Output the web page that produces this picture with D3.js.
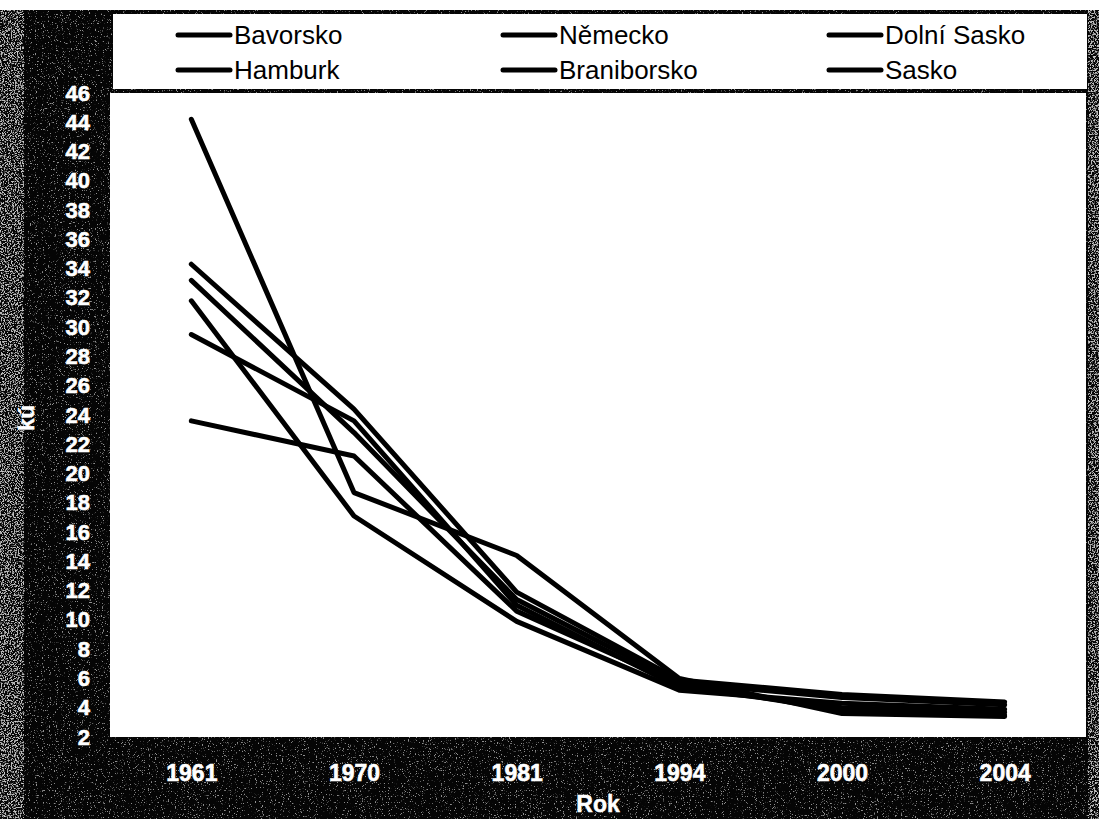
<!DOCTYPE html>
<html>
<head>
<meta charset="utf-8">
<script src="https://cdn.jsdelivr.net/npm/d3@7"></script>
<style>
  html, body { margin: 0; padding: 0; background: #fff; }
  svg { display: block; }
</style>
</head>
<body>
<div id="chart"></div>
<script>
// ---- data ----
const years = ["1961", "1970", "1981", "1994", "2000", "2004"];
const seriesNames = ["Bavorsko", "Německo", "Dolní Sasko", "Hamburk", "Braniborsko", "Sasko"];
const bavorsko    = [23.6, 21.2, 10.6, 5.6, 3.8, 3.5];
const nemecko     = [29.5, 23.6, 11.0, 5.4, 4.0, 3.7];
const dolniSasko  = [33.2, 22.8, 11.4, 5.7, 4.7, 4.2];
const hamburk     = [31.8, 17.1,  9.9, 5.2, 4.3, 3.9];
const braniborsko = [34.3, 24.4, 11.9, 5.9, 4.9, 4.4];
const sasko       = [44.2, 18.7, 14.4, 6.0, 3.6, 3.4];
const seriesValues = [bavorsko, nemecko, dolniSasko, hamburk, braniborsko, sasko];
const yTicks = [2,4,6,8,10,12,14,16,18,20,22,24,26,28,30,32,34,36,38,40,42,44,46];
const xTitle = "Rok";
const yTitle = "kú";

// ---- layout ----
const W = 1099, H = 819;
const plot = {left: 110, right: 1086, top: 93, bottom: 737};
const legendBox = {left: 113, right: 1087, top: 14, bottom: 89};

const svg = d3.select("#chart").append("svg")
  .attr("width", W).attr("height", H);

const defs = svg.append("defs");
function noiseFilter(id, freq, th, seed, gray) {
  const f = defs.append("filter").attr("id", id)
    .attr("x", 0).attr("y", 0).attr("width", 1).attr("height", 1);
  f.append("feTurbulence").attr("type", "fractalNoise")
    .attr("baseFrequency", freq).attr("numOctaves", 3).attr("seed", seed);
  const T = 9;
  f.append("feColorMatrix").attr("type", "matrix")
    .attr("values", `0 0 0 0 ${gray} 0 0 0 0 ${gray} 0 0 0 0 ${gray} ${T} 0 0 0 ${-T*th}`);
}
noiseFilter("spk", 0.85, 0.63, 4, 0.85);
noiseFilter("spkEdge", 0.7, 0.5, 9, 0.8);

// background: white strip at top, dark scanned field below
svg.append("rect").attr("x", 0).attr("y", 0).attr("width", W).attr("height", H).attr("fill", "#fff");
svg.append("rect").attr("x", 0).attr("y", 10).attr("width", W).attr("height", H - 10).attr("fill", "#050505");
svg.append("rect").attr("x", 0).attr("y", 10).attr("width", W).attr("height", H - 10)
  .attr("filter", "url(#spk)").attr("opacity", 0.6);
svg.append("rect").attr("x", 0).attr("y", 10).attr("width", 24).attr("height", H - 10)
  .attr("filter", "url(#spkEdge)").attr("opacity", 0.8);
svg.append("rect").attr("x", 1088).attr("y", 10).attr("width", 11).attr("height", H - 10)
  .attr("filter", "url(#spkEdge)").attr("opacity", 0.8);

// plot area and legend box
svg.append("rect").attr("x", legendBox.left).attr("y", legendBox.top)
  .attr("width", legendBox.right - legendBox.left).attr("height", legendBox.bottom - legendBox.top)
  .attr("fill", "#fff");
svg.append("rect").attr("x", plot.left).attr("y", plot.top)
  .attr("width", plot.right - plot.left).attr("height", plot.bottom - plot.top)
  .attr("fill", "#fff");

// scales
const x = d3.scalePoint().domain(years).range([plot.left, plot.right]).padding(0.5);
const y = d3.scaleLinear().domain([2, 46]).range([plot.bottom, plot.top]);

// axes
const yAxis = svg.append("g").attr("transform", `translate(${plot.left},0)`)
  .call(d3.axisLeft(y).tickValues(yTicks).tickFormat(d3.format("d")).tickSize(0).tickPadding(20));
yAxis.select(".domain").remove();
yAxis.selectAll("text")
  .attr("fill", "#fff").attr("font-family", "Liberation Sans, Arial, sans-serif")
  .attr("font-weight", "bold").attr("font-size", 22)
  .attr("stroke", "#fff").attr("stroke-width", 0.6);

const xAxis = svg.append("g").attr("transform", `translate(0,${plot.bottom})`)
  .call(d3.axisBottom(x).tickSize(0).tickPadding(28));
xAxis.select(".domain").remove();
xAxis.selectAll("text")
  .attr("fill", "#fff").attr("font-family", "Liberation Sans, Arial, sans-serif")
  .attr("font-weight", "bold").attr("font-size", 23)
  .attr("stroke", "#fff").attr("stroke-width", 0.6);

// axis titles
svg.append("text").attr("x", 598).attr("y", 812)
  .attr("text-anchor", "middle").attr("fill", "#fff")
  .attr("font-family", "Liberation Sans, Arial, sans-serif").attr("font-weight", "bold")
  .attr("font-size", 23).attr("stroke", "#fff").attr("stroke-width", 0.5).text(xTitle);
svg.append("text").attr("transform", "translate(34,418) rotate(-90)")
  .attr("text-anchor", "middle").attr("fill", "#fff")
  .attr("font-family", "Liberation Sans, Arial, sans-serif").attr("font-weight", "bold")
  .attr("font-size", 22).attr("stroke", "#fff").attr("stroke-width", 0.5).text(yTitle);

// lines
const line = d3.line().x((d, i) => x(years[i])).y(d => y(d));
svg.append("g").selectAll("path").data(seriesValues).join("path")
  .attr("d", line)
  .attr("fill", "none").attr("stroke", "#000").attr("stroke-width", 5)
  .attr("stroke-linejoin", "round").attr("stroke-linecap", "round");

// legend
const legCols = [178, 503, 829];
const legRows = [35, 70];
const lg = svg.append("g");
seriesNames.forEach((name, i) => {
  const cx = legCols[i % 3], cy = legRows[Math.floor(i / 3)];
  lg.append("line").attr("x1", cx).attr("x2", cx + 52).attr("y1", cy).attr("y2", cy)
    .attr("stroke", "#000").attr("stroke-width", 5).attr("stroke-linecap", "round");
  lg.append("text").attr("x", cx + 56).attr("y", cy).attr("dy", "0.35em")
    .attr("font-family", "Liberation Sans, Arial, sans-serif").attr("font-size", 26)
    .attr("fill", "#000").text(name);
});
</script>
</body>
</html>
